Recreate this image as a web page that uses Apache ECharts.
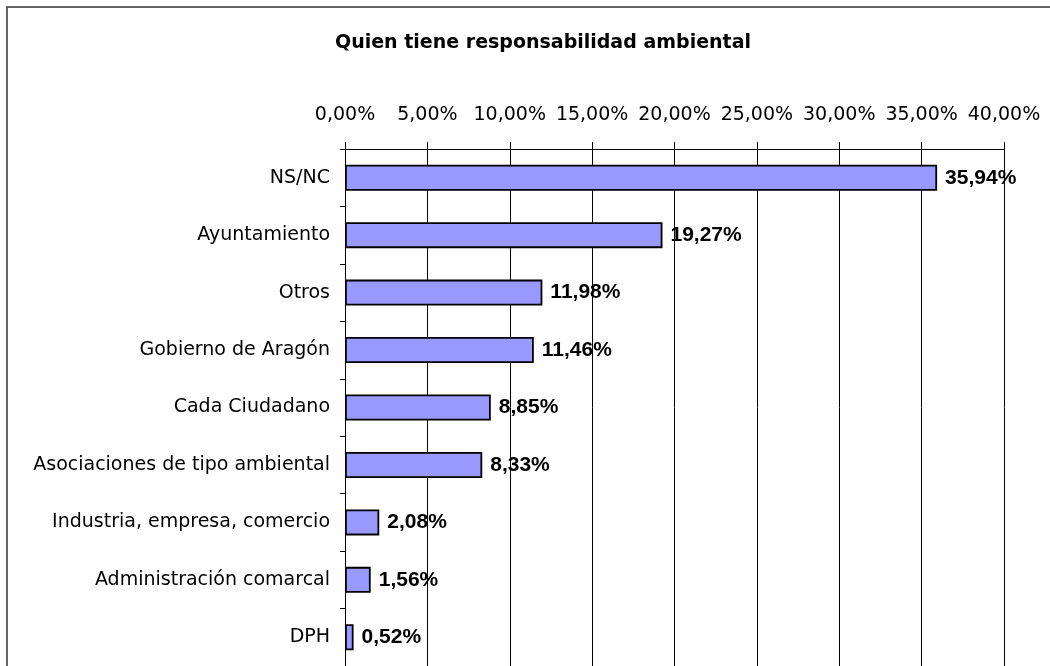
<!DOCTYPE html>
<html>
<head>
<meta charset="utf-8">
<script src="https://cdn.jsdelivr.net/npm/echarts@6/dist/echarts.min.js"></script>
<style>
  html, body { margin: 0; padding: 0; background: #fff; }
  #chart { width: 1050px; height: 666px; }
</style>
</head>
<body>
<div id="chart"></div>
<script>
// datos del gráfico
const categorias = ['NS/NC', 'Ayuntamiento', 'Otros', 'Gobierno de Aragón', 'Cada Ciudadano',
    'Asociaciones de tipo ambiental', 'Industria, empresa, comercio', 'Administración comarcal', 'DPH'];
const porcentajes = [35.94, 19.27, 11.98, 11.46, 8.85, 8.33, 2.08, 1.56, 0.52];
const ejeMin = 0;
const ejeMax = 40;
const ejePaso = 5;

function fmtPct(v) {
    return v.toFixed(2).replace('.', ',') + '%';
}

const chart = echarts.init(document.getElementById('chart'));
chart.setOption({
    backgroundColor: '#fff',
    animation: false,
    textStyle: { fontFamily: 'DejaVu Sans, sans-serif' },
    graphic: [{
        type: 'rect',
        shape: { x: 7, y: 7, width: 1100, height: 700 },
        style: { fill: 'none', stroke: '#333', lineWidth: 1.5 },
        silent: true
    }],
    title: {
        text: 'Quien tiene responsabilidad ambiental',
        left: 538, top: 29, textAlign: 'center',
        textStyle: { fontSize: 19, fontWeight: 'bold', color: '#000', fontFamily: 'DejaVu Sans, sans-serif' }
    },
    grid: { left: 345, right: 46, top: 149, height: 522, containLabel: false },
    xAxis: {
        type: 'value', position: 'top',
        min: ejeMin, max: ejeMax, interval: ejePaso,
        axisLine: { show: true, lineStyle: { color: '#000', width: 1 } },
        axisTick: { show: true, inside: false, length: 7, lineStyle: { color: '#000' } },
        axisLabel: { formatter: fmtPct, fontSize: 19, color: '#000', margin: 24, fontFamily: 'DejaVu Sans' },
        splitLine: { show: true, lineStyle: { color: '#000', width: 1 } }
    },
    yAxis: {
        type: 'category', inverse: true, data: categorias,
        axisLine: { show: true, lineStyle: { color: '#000', width: 1 } },
        axisTick: { show: true, length: 5, lineStyle: { color: '#000' } },
        axisLabel: { fontSize: 19, color: '#000', margin: 15, fontFamily: 'DejaVu Sans' },
        splitLine: { show: false }
    },
    series: [{
        type: 'bar',
        data: porcentajes,
        barWidth: 26,
        itemStyle: { color: '#9999FF', borderColor: '#000', borderWidth: 1.8 },
        label: {
            show: true, position: 'right', distance: 8,
            formatter: p => fmtPct(p.value),
            fontSize: 21, fontWeight: 'bold', color: '#000',
            fontFamily: 'Liberation Sans, Arial, sans-serif'
        }
    }]
});
</script>
</body>
</html>
